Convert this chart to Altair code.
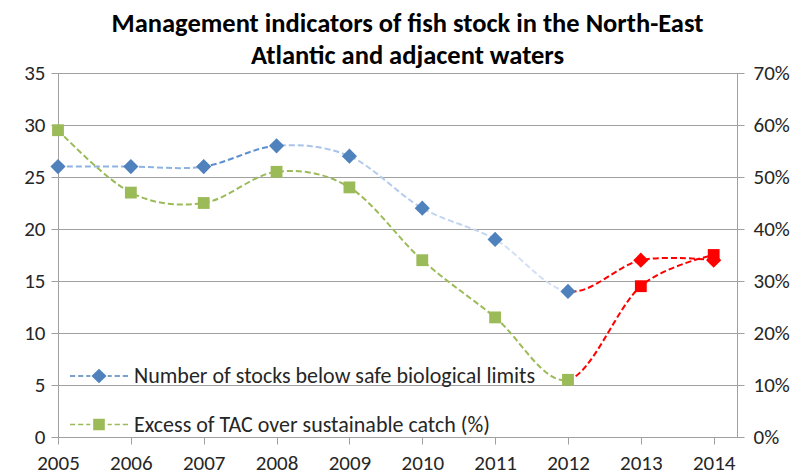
import altair as alt
import pandas as pd

# ---- data ----
years = [2005, 2006, 2007, 2008, 2009, 2010, 2011, 2012, 2013, 2014]
stocks_below_limits = [26, 26, 26, 28, 27, 22, 19, 14, 17, 17]
excess_tac = [0.59, 0.47, 0.45, 0.51, 0.48, 0.34, 0.23, 0.11, 0.29, 0.35]

left_ticks = [0, 5, 10, 15, 20, 25, 30, 35]
right_ticks = [0, 0.1, 0.2, 0.3, 0.4, 0.5, 0.6, 0.7]

legend_labels = [
    "Number of stocks below safe biological limits",
    "Excess of TAC over sustainable catch (%)",
]
title_lines = [
    "Management indicators of fish stock in the North-East",
    "Atlantic and adjacent waters",
]

# colours of each dashed segment (2005-06, 06-07, ... 13-14)
blue_segment_colors = ["#8db3e2", "#8db3e2", "#5b8fd1", "#a9c4eb", "#b4cbec",
                       "#c2d5f0", "#d3e0f4", "#ff0000", "#ff0000"]
green_segment_colors = ["#9bbb59"] * 7 + ["#ff0000", "#ff0000"]
first_red_year = 2013

BLUE = "#4f81bd"
GREEN = "#9bbb59"
RED = "#ff0000"
GRID = "#a0a0a0"
TEXT = "#262626"
FONT = "Calibri, Carlito, 'Open Sans', sans-serif"
TICK_FS = 21

df = pd.DataFrame({"year": years, "stocks": stocks_below_limits, "excess": excess_tac})
legend_df = pd.DataFrame({"series": legend_labels})


def segment_gradient(colors):
    n = len(colors)
    stops = []
    for i, c in enumerate(colors):
        stops.append(alt.GradientStop(color=c, offset=i / n))
        stops.append(alt.GradientStop(color=c, offset=(i + 1) / n))
    return alt.Gradient(gradient="linear", stops=stops, x1=0, x2=1, y1=0, y2=0)


x_enc = alt.X(
    "year:Q",
    scale=alt.Scale(domain=[2005, 2014.32], nice=False, zero=False),
    axis=alt.Axis(values=years, format="d", title=None, grid=False, tickSize=7,
                  labelPadding=8, labelFontSize=TICK_FS, labelColor=TEXT, labelFont=FONT,
                  domainColor=GRID, tickColor=GRID, labelFlush=False),
)

y_left_scale = alt.Scale(domain=[0, 35], nice=False, zero=True)
y_right_scale = alt.Scale(domain=[0, 0.7], nice=False, zero=True)

blue_line = alt.Chart(df).mark_line(
    interpolate="cardinal", tension=0, strokeDash=[6, 3], strokeWidth=2,
    color=segment_gradient(blue_segment_colors),
).encode(
    x=x_enc,
    y=alt.Y("stocks:Q", scale=y_left_scale,
            axis=alt.Axis(values=left_ticks, title=None, grid=True, gridColor=GRID,
                          tickSize=7, labelPadding=6, labelFontSize=TICK_FS, labelColor=TEXT,
                          labelFont=FONT, domainColor=GRID, tickColor=GRID)),
)

green_line = alt.Chart(df).mark_line(
    interpolate="cardinal", tension=0, strokeDash=[6, 3], strokeWidth=2,
    color=segment_gradient(green_segment_colors),
).encode(
    x=x_enc,
    y=alt.Y("excess:Q", scale=y_right_scale,
            axis=alt.Axis(values=right_ticks, format=".0%", title=None, grid=False,
                          orient="right", tickSize=7, labelPadding=9, labelFontSize=TICK_FS,
                          labelColor=TEXT, labelFont=FONT, domainColor=GRID, tickColor=GRID)),
)

green_pts = alt.Chart(df).mark_point(shape="square", filled=True, size=140, opacity=1).encode(
    x=x_enc,
    y=alt.Y("excess:Q", scale=y_right_scale, axis=None),
    color=alt.condition(alt.datum.year >= first_red_year, alt.value(RED), alt.value(GREEN)),
)

blue_pts = alt.Chart(df).mark_point(shape="diamond", filled=True, size=230, opacity=1).encode(
    x=x_enc,
    y=alt.Y("stocks:Q", scale=y_left_scale, axis=None),
    color=alt.condition(alt.datum.year >= first_red_year, alt.value(RED), alt.value(BLUE)),
)

# legend symbols: dashed line with marker (unit coordinates of a custom symbol path)
dash = "M{a},-0.03H{b}V0.03H{a}Z"
dashes = "".join(dash.format(a=a, b=b) for a, b in
                 [(-1, -0.82), (-0.72, -0.54), (-0.44, -0.3), (0.3, 0.44), (0.54, 0.72), (0.82, 1)])
diamond_sym = dashes + "M-0.26,0L0,-0.25L0.26,0L0,0.25Z"
square_sym = dashes + "M-0.2,-0.2H0.2V0.2H-0.2Z"

legend_props = dict(orient="none", legendX=12, legendY=274, title=None,
                    labelFontSize=22, labelFont=FONT, labelColor=TEXT, labelLimit=600,
                    symbolSize=3364, rowPadding=8.5, labelOffset=6, symbolStrokeWidth=0)

legend_layer = alt.Chart(legend_df).mark_point(filled=True, opacity=1).encode(
    color=alt.Color("series:N", scale=alt.Scale(domain=legend_labels, range=[BLUE, GREEN]),
                    legend=alt.Legend(**legend_props)),
    shape=alt.Shape("series:N", scale=alt.Scale(domain=legend_labels, range=[diamond_sym, square_sym]),
                    legend=alt.Legend(**legend_props)),
).transform_filter("false")

chart = alt.layer(
    blue_line, green_line, green_pts, blue_pts, legend_layer
).resolve_scale(
    y="independent"
).properties(
    width=679,
    height=364,
    autosize=alt.AutoSizeParams(type="none"),
    padding={"left": 50, "top": 65, "right": 54, "bottom": 37},
    title=alt.TitleParams(text=title_lines, font=FONT, fontSize=26.5, fontWeight="bold",
                          color="black", anchor="middle", frame="group", dx=10,
                          lineHeight=32, offset=-7),
).configure_view(stroke=None)

chart.save("out.html", embed_options={"renderer": "svg", "actions": False})
